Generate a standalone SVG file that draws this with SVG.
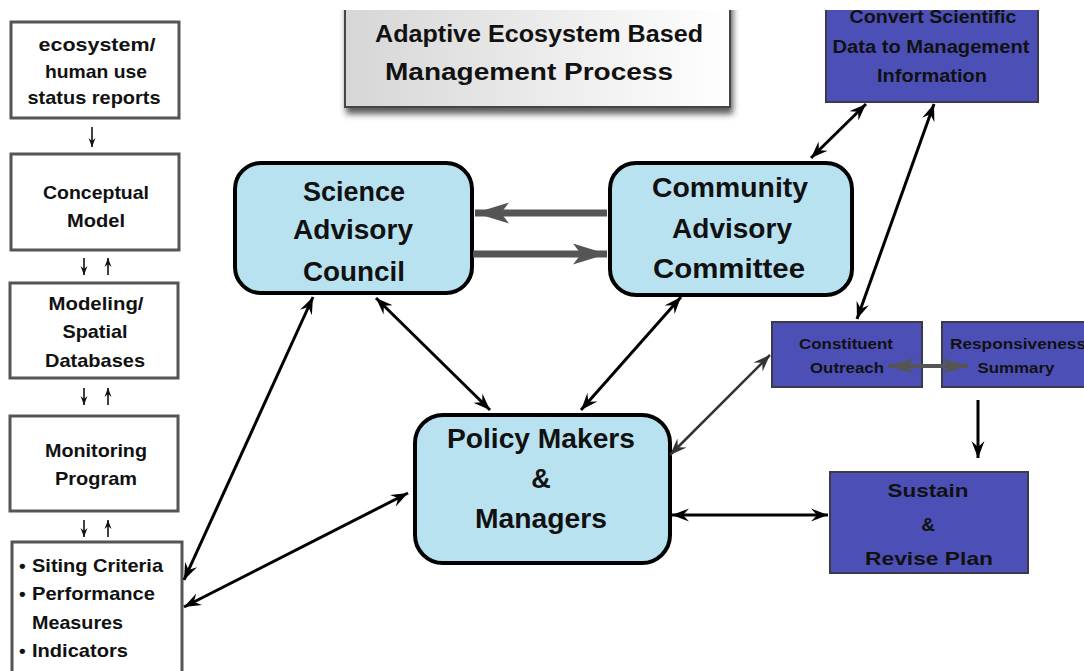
<svg xmlns="http://www.w3.org/2000/svg" width="1084" height="671" viewBox="0 0 1084 671">
<style>
text{font-family:"Liberation Sans",Arial,Helvetica,sans-serif;font-weight:bold;fill:#111;}
.lbox{fill:#fff;stroke:#555;stroke-width:3;}
.rbox{fill:#b9e2f0;stroke:#000;stroke-width:4;}
.bbox{fill:#4c50b6;stroke:#3a3a4a;stroke-width:2;}
.lt{font-size:19px;text-anchor:middle;}
.bt{font-size:27px;text-anchor:middle;}
.st{text-anchor:middle;}
.conn{fill:none;stroke:#000;stroke-width:3;}
.thin{fill:none;stroke:#111;stroke-width:1.6;}
.gray{fill:none;stroke:#555;stroke-width:7;}
</style>
<defs>
<linearGradient id="tg" x1="0" y1="0" x2="1" y2="0">
<stop offset="0" stop-color="#d6d6d6"/>
<stop offset="1" stop-color="#ffffff"/>
</linearGradient>
<filter id="sh" x="-10%" y="-10%" width="125%" height="140%">
<feDropShadow dx="2" dy="6" stdDeviation="3" flood-color="#333" flood-opacity="0.8"/>
</filter>
<clipPath id="top"><rect x="0" y="10" width="1084" height="661"/></clipPath>
<marker id="ah" viewBox="-17 -7 18 14" refX="0" refY="0" markerWidth="18" markerHeight="14" orient="auto-start-reverse" markerUnits="userSpaceOnUse">
<path d="M0,0 L-17,-6.5 L-11,0 L-17,6.5 Z" fill="#000"/>
</marker>
<marker id="ahd" viewBox="-17 -7 18 14" refX="0" refY="0" markerWidth="18" markerHeight="14" orient="auto-start-reverse" markerUnits="userSpaceOnUse">
<path d="M0,0 L-17,-6.5 L-11,0 L-17,6.5 Z" fill="#333"/>
</marker>
<marker id="ahs" viewBox="-9 -4 10 8" refX="0" refY="0" markerWidth="10" markerHeight="8" orient="auto-start-reverse" markerUnits="userSpaceOnUse">
<path d="M0,0 L-9,-3.5 L-6,0 L-9,3.5 Z" fill="#111"/>
</marker>
<marker id="ahg" viewBox="-34 -11 35 22" refX="0" refY="0" markerWidth="35" markerHeight="22" orient="auto-start-reverse" markerUnits="userSpaceOnUse">
<path d="M0,0 L-34,-10.5 L-26,0 L-34,10.5 Z" fill="#555"/>
</marker>
<marker id="ahm" viewBox="-26 -9 27 18" refX="0" refY="0" markerWidth="27" markerHeight="18" orient="auto-start-reverse" markerUnits="userSpaceOnUse">
<path d="M0,0 L-26,-8 L-19,0 L-26,8 Z" fill="#555"/>
</marker>
</defs>

<g id="title">
<g clip-path="url(#top)">
<rect x="345" y="-10" width="385" height="117" fill="url(#tg)" stroke="#444" stroke-width="2" filter="url(#sh)"/>
</g>
<text x="539" y="42" font-size="23" text-anchor="middle" textLength="328" lengthAdjust="spacingAndGlyphs">Adaptive Ecosystem Based</text>
<text x="529" y="80" font-size="23" text-anchor="middle" textLength="288" lengthAdjust="spacingAndGlyphs">Management Process</text>
</g>

<g id="status-reports">
<rect class="lbox" x="11" y="22" width="168" height="96"/>
<text class="lt" x="97" y="51" textLength="117" lengthAdjust="spacingAndGlyphs">ecosystem/</text>
<text class="lt" x="96" y="78" textLength="102" lengthAdjust="spacingAndGlyphs">human use</text>
<text class="lt" x="94" y="104" textLength="133" lengthAdjust="spacingAndGlyphs">status reports</text>
</g>
<g id="conceptual-model">
<rect class="lbox" x="11" y="154" width="168" height="96"/>
<text class="lt" x="96" y="199" textLength="106" lengthAdjust="spacingAndGlyphs">Conceptual</text>
<text class="lt" x="96" y="227" textLength="58" lengthAdjust="spacingAndGlyphs">Model</text>
</g>
<g id="modeling">
<rect class="lbox" x="10" y="283" width="168" height="95"/>
<text class="lt" x="96" y="310" textLength="95" lengthAdjust="spacingAndGlyphs">Modeling/</text>
<text class="lt" x="95" y="338" textLength="65" lengthAdjust="spacingAndGlyphs">Spatial</text>
<text class="lt" x="95" y="367" textLength="100" lengthAdjust="spacingAndGlyphs">Databases</text>
</g>
<g id="monitoring">
<rect class="lbox" x="10" y="416" width="168" height="95"/>
<text class="lt" x="96" y="457" textLength="102" lengthAdjust="spacingAndGlyphs">Monitoring</text>
<text class="lt" x="96" y="485" textLength="82" lengthAdjust="spacingAndGlyphs">Program</text>
</g>
<g id="criteria">
<rect class="lbox" x="12" y="542" width="170" height="140"/>
<text x="19" y="572" font-size="19">•</text>
<text x="32" y="572" font-size="19" textLength="131" lengthAdjust="spacingAndGlyphs">Siting Criteria</text>
<text x="19" y="600" font-size="19">•</text>
<text x="32" y="600" font-size="19" textLength="123" lengthAdjust="spacingAndGlyphs">Performance</text>
<text x="32" y="629" font-size="19" textLength="91" lengthAdjust="spacingAndGlyphs">Measures</text>
<text x="19" y="657" font-size="19">•</text>
<text x="32" y="657" font-size="19" textLength="96" lengthAdjust="spacingAndGlyphs">Indicators</text>
</g>

<g id="science">
<rect class="rbox" x="235" y="163" width="237" height="130" rx="26"/>
<text class="bt" x="354" y="201" textLength="102" lengthAdjust="spacingAndGlyphs">Science</text>
<text class="bt" x="353" y="239" textLength="120" lengthAdjust="spacingAndGlyphs">Advisory</text>
<text class="bt" x="354" y="281" textLength="102" lengthAdjust="spacingAndGlyphs">Council</text>
</g>
<g id="community">
<rect class="rbox" x="610" y="163" width="242" height="132" rx="26"/>
<text class="bt" x="730" y="197" textLength="156" lengthAdjust="spacingAndGlyphs">Community</text>
<text class="bt" x="732" y="238" textLength="120" lengthAdjust="spacingAndGlyphs">Advisory</text>
<text class="bt" x="729" y="278" textLength="152" lengthAdjust="spacingAndGlyphs">Committee</text>
</g>
<g id="policy">
<rect class="rbox" x="415" y="415" width="255" height="148" rx="28"/>
<text class="bt" x="541" y="448" textLength="188" lengthAdjust="spacingAndGlyphs">Policy Makers</text>
<text class="bt" x="541" y="488">&amp;</text>
<text class="bt" x="541" y="528" textLength="132" lengthAdjust="spacingAndGlyphs">Managers</text>
</g>

<g id="convert">
<g clip-path="url(#top)">
<rect class="bbox" x="826" y="6" width="212" height="96"/>
<text class="st" x="933" y="23" font-size="18" textLength="167" lengthAdjust="spacingAndGlyphs">Convert Scientific</text>
</g>
<text class="st" x="931" y="53" font-size="18" textLength="197" lengthAdjust="spacingAndGlyphs">Data to Management</text>
<text class="st" x="932" y="82" font-size="18" textLength="110" lengthAdjust="spacingAndGlyphs">Information</text>
</g>
<g id="outreach">
<rect class="bbox" x="772" y="322" width="150" height="65"/>
<text class="st" x="846" y="349" font-size="15" textLength="94" lengthAdjust="spacingAndGlyphs">Constituent</text>
<text class="st" x="847" y="373" font-size="15" textLength="74" lengthAdjust="spacingAndGlyphs">Outreach</text>
</g>
<g id="responsiveness">
<rect class="bbox" x="942" y="322" width="150" height="65"/>
<text x="950" y="349" font-size="15" textLength="136" lengthAdjust="spacingAndGlyphs">Responsiveness</text>
<text class="st" x="1016" y="373" font-size="15" textLength="77" lengthAdjust="spacingAndGlyphs">Summary</text>
</g>
<g id="sustain">
<rect class="bbox" x="830" y="472" width="198" height="101"/>
<text class="st" x="928" y="497" font-size="19" textLength="81" lengthAdjust="spacingAndGlyphs">Sustain</text>
<text class="st" x="928" y="531" font-size="19">&amp;</text>
<text class="st" x="929" y="565" font-size="19" textLength="128" lengthAdjust="spacingAndGlyphs">Revise Plan</text>
</g>

<g id="connectors">
<line class="thin" x1="92" y1="127" x2="92" y2="147" marker-end="url(#ahs)"/>
<line class="thin" x1="84" y1="258" x2="84" y2="275" marker-end="url(#ahs)"/>
<line class="thin" x1="108" y1="275" x2="108" y2="258" marker-end="url(#ahs)"/>
<line class="thin" x1="84" y1="388" x2="84" y2="405" marker-end="url(#ahs)"/>
<line class="thin" x1="108" y1="405" x2="108" y2="388" marker-end="url(#ahs)"/>
<line class="thin" x1="84" y1="520" x2="84" y2="537" marker-end="url(#ahs)"/>
<line class="thin" x1="108" y1="537" x2="108" y2="520" marker-end="url(#ahs)"/>

<line class="gray" x1="607" y1="213" x2="475" y2="213" marker-end="url(#ahg)"/>
<line class="gray" x1="473" y1="254" x2="607" y2="254" marker-end="url(#ahg)"/>

<line class="conn" x1="313" y1="297" x2="184" y2="580" marker-start="url(#ah)" marker-end="url(#ah)"/>
<line class="conn" x1="408" y1="493" x2="184" y2="607" marker-start="url(#ah)" marker-end="url(#ah)"/>
<line class="conn" x1="376" y1="298" x2="490" y2="410" marker-start="url(#ah)" marker-end="url(#ah)"/>
<line class="conn" x1="681" y1="297" x2="581" y2="410" marker-start="url(#ah)" marker-end="url(#ah)"/>
<line class="conn" x1="866" y1="104" x2="811" y2="158" marker-start="url(#ah)" marker-end="url(#ah)"/>
<line class="conn" x1="934" y1="104" x2="857" y2="319" marker-start="url(#ah)" marker-end="url(#ah)"/>
<line fill="none" stroke="#333" stroke-width="2.5" x1="770" y1="355" x2="670" y2="455" marker-start="url(#ahd)" marker-end="url(#ahd)"/>
<line fill="none" stroke="#555" stroke-width="4" x1="888" y1="366" x2="968" y2="366" marker-start="url(#ahm)" marker-end="url(#ahm)"/>
<line class="conn" x1="978" y1="400" x2="978" y2="458" marker-end="url(#ah)"/>
<line class="conn" x1="672" y1="515" x2="828" y2="515" marker-start="url(#ah)" marker-end="url(#ah)"/>
</g>
</svg>
